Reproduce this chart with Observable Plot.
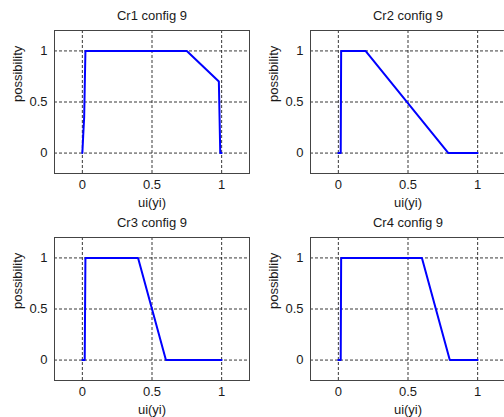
<!DOCTYPE html>
<html>
<head>
<meta charset="utf-8">
<script src="https://cdn.jsdelivr.net/npm/d3@7"></script>
<script src="https://cdn.jsdelivr.net/npm/@observablehq/plot@0.6"></script>
<style>
  html, body { margin: 0; padding: 0; background: #fff; }
  #wrap { position: relative; width: 504px; height: 417px; overflow: hidden; background: #fff; }
  #wrap svg { position: absolute; }
</style>
</head>
<body>
<div id="wrap"></div>
<script>
const titles = ["Cr1 config 9", "Cr2 config 9", "Cr3 config 9", "Cr4 config 9"];
const xLabel = "ui(yi)";
const yLabel = "possibility";
const xTicks = [0, 0.5, 1];
const yTicks = [0, 0.5, 1];

const cr1X = [0, 0.006, 0.013, 0.022, 0.75, 0.98, 0.99, 1];
const cr1Y = [0, 0.17, 0.35, 1, 1, 0.7, 0, 0];
const cr2X = [0, 0.017, 0.02, 0.195, 0.79, 1];
const cr2Y = [0, 0, 1, 1, 0, 0];
const cr3X = [0, 0.017, 0.022, 0.4, 0.6, 1];
const cr3Y = [0, 0, 1, 1, 0, 0];
const cr4X = [0, 0.017, 0.02, 0.6, 0.8, 1];
const cr4Y = [0, 0, 1, 1, 0, 0];

const panels = [
  {title: titles[0], xs: cr1X, ys: cr1Y, left: 0, top: 0},
  {title: titles[1], xs: cr2X, ys: cr2Y, left: 256, top: 0},
  {title: titles[2], xs: cr3X, ys: cr3Y, left: 0, top: 207},
  {title: titles[3], xs: cr4X, ys: cr4Y, left: 256, top: 207}
];

const wrap = document.getElementById("wrap");
const font = "'Liberation Sans', Arial, sans-serif";

for (const p of panels) {
  const data = p.xs.map((x, i) => ({x, y: p.ys[i]}));
  const chart = Plot.plot({
    width: 252, height: 207,
    marginLeft: 54, marginRight: 3, marginTop: 30, marginBottom: 34,
    style: {fontFamily: font, fontSize: "13px", color: "#1a1a1a", background: "transparent", overflow: "visible"},
    x: {domain: [-0.2, 1.2], label: null},
    y: {domain: [-0.2, 1.2], label: null},
    marks: [
      Plot.gridX(xTicks, {stroke: "#222", strokeOpacity: 0.9, strokeDasharray: "3,2"}),
      Plot.gridY(yTicks, {stroke: "#222", strokeOpacity: 0.9, strokeDasharray: "3,2"}),
      Plot.frame({stroke: "#444", strokeWidth: 1}),
      Plot.line(data, {x: "x", y: "y", stroke: "#0000ff", strokeWidth: 2}),
      Plot.axisX(xTicks, {tickSize: 0, tickPadding: 6, label: null, tickFormat: d => String(d), fontSize: 13}),
      Plot.axisY(yTicks, {tickSize: 0, tickPadding: 7, label: null, tickFormat: d => String(d), fontSize: 13}),
      Plot.text([p.title], {frameAnchor: "top", lineAnchor: "middle", dy: -15, fontSize: 13}),
      Plot.text([xLabel], {frameAnchor: "bottom", lineAnchor: "middle", dy: 29, fontSize: 13}),
      Plot.text([yLabel], {frameAnchor: "left", lineAnchor: "middle", dx: -37, rotate: -90, fontSize: 13})
    ]
  });
  chart.style.left = p.left + "px";
  chart.style.top = p.top + "px";
  wrap.appendChild(chart);
}
</script>
</body>
</html>
